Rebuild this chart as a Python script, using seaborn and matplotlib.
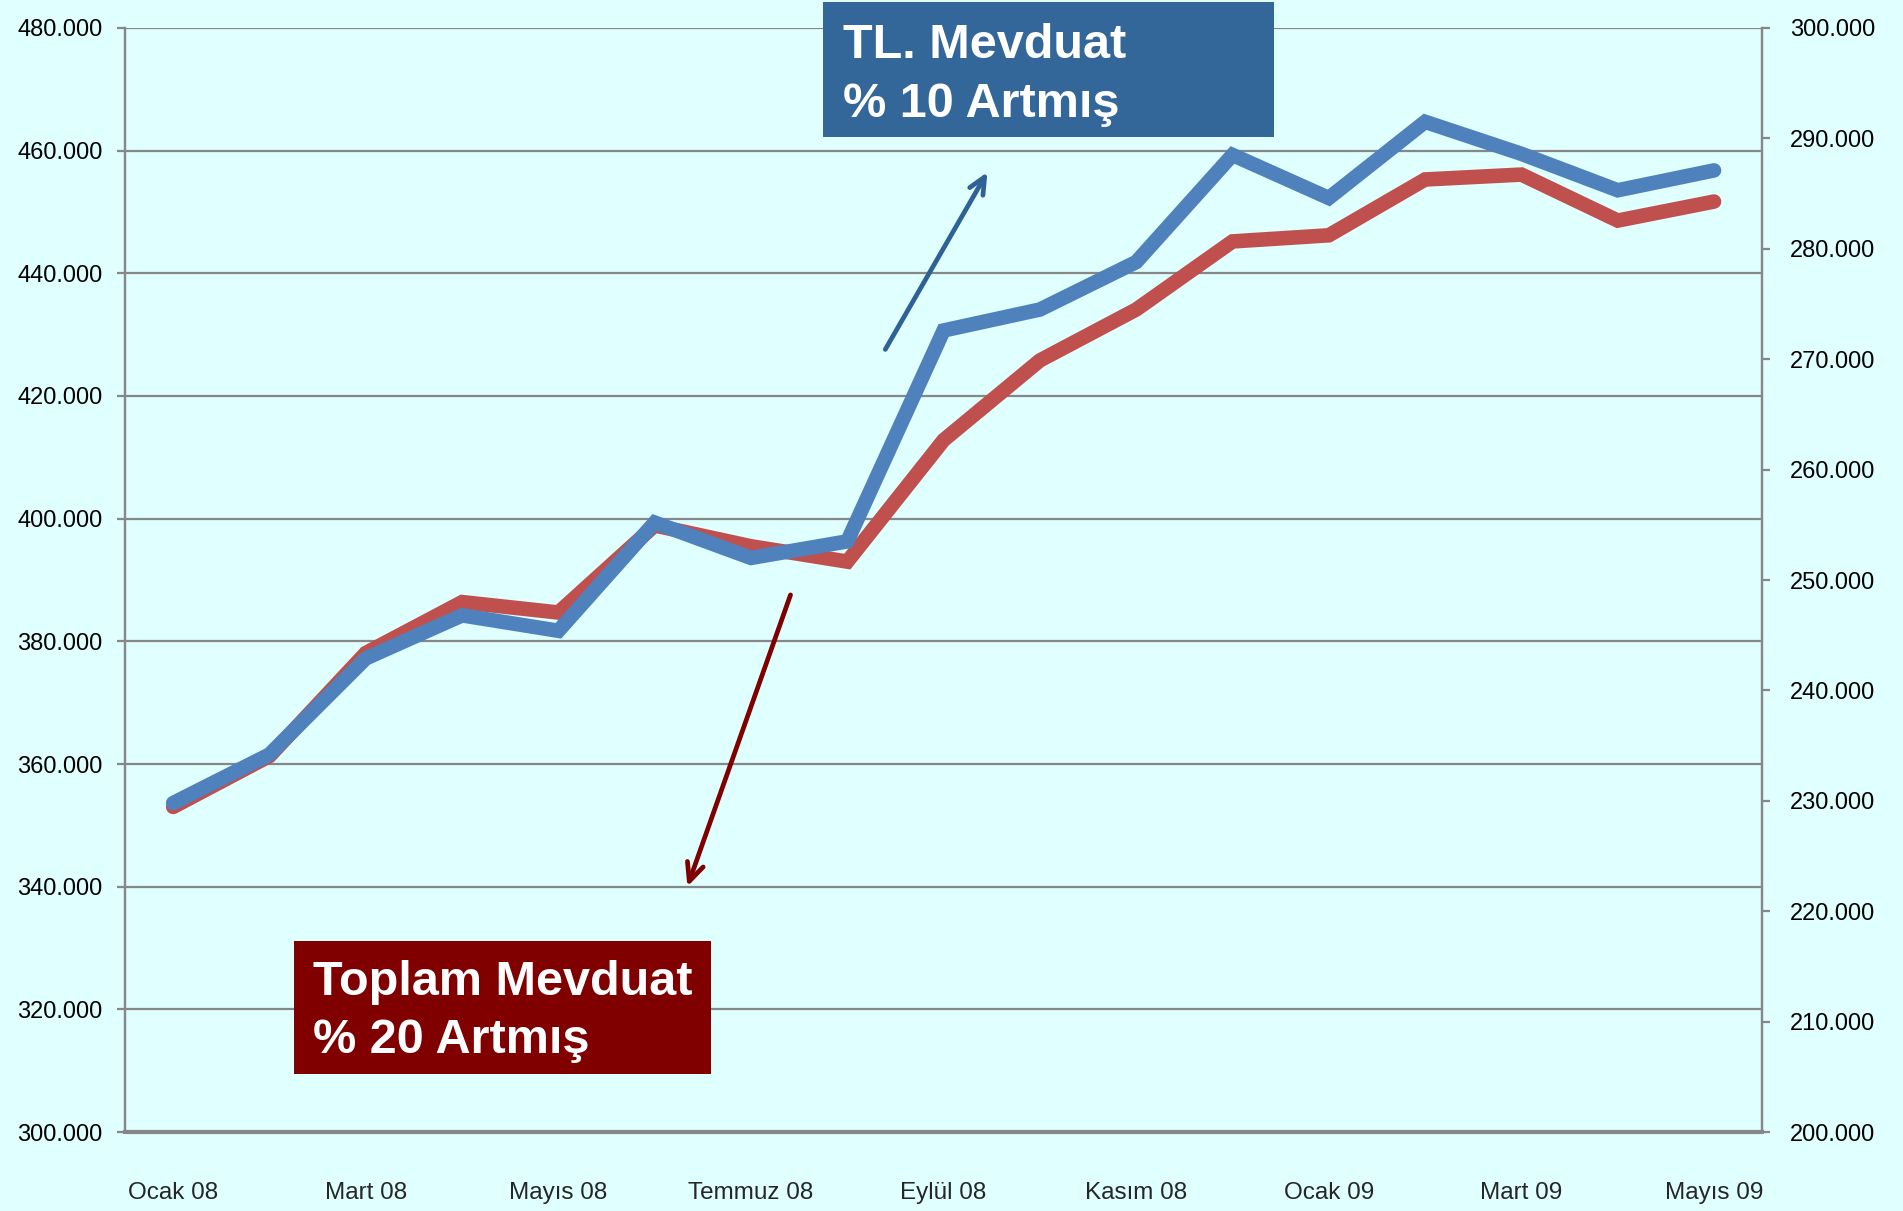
import numpy as np
import pandas as pd
import matplotlib
matplotlib.use("Agg")
import matplotlib.pyplot as plt
import seaborn as sns
from matplotlib.patches import Rectangle

# monthly data, Ocak 08 .. Mayis 09 (bin TL)
months = ["Ocak 08", "Şubat 08", "Mart 08", "Nisan 08", "Mayıs 08", "Haziran 08",
          "Temmuz 08", "Ağustos 08", "Eylül 08", "Ekim 08", "Kasım 08", "Aralık 08",
          "Ocak 09", "Şubat 09", "Mart 09", "Nisan 09", "Mayıs 09"]
toplam = [353.0, 361.3, 378.1, 386.4, 384.7, 398.9, 395.5, 393.0, 412.8,
          425.8, 434.1, 445.2, 446.2, 455.3, 456.1, 448.6, 451.7]
tl = [229.8, 234.2, 242.9, 246.8, 245.4, 255.2, 252.0, 253.5, 272.6,
      274.5, 278.8, 288.5, 284.6, 291.5, 288.6, 285.3, 287.1]

left_ticks = [300, 320, 340, 360, 380, 400, 420, 440, 460, 480]
right_ticks = [200, 210, 220, 230, 240, 250, 260, 270, 280, 290, 300]

BG = "#E0FFFF"
GRID = "#878787"
RED = "#C0504D"
BLUE = "#4F81BD"

sns.set_style("white")
plt.rcParams["font.family"] = ["Liberation Sans", "DejaVu Sans"]

df = pd.DataFrame({"idx": np.arange(len(months)), "month": months,
                   "toplam": toplam, "tl": tl})

fig = plt.figure(figsize=(19.03, 12.11), dpi=100, facecolor=BG)
ax = fig.add_axes([0.0657, 0.0652, 0.926 - 0.0657, 0.9769 - 0.0652])
ax.set_facecolor(BG)
ax2 = ax.twinx()

sns.lineplot(data=df, x="idx", y="toplam", ax=ax, color=RED, linewidth=10.5,
             solid_capstyle="round", solid_joinstyle="miter", zorder=3)
sns.lineplot(data=df, x="idx", y="tl", ax=ax2, color=BLUE, linewidth=10.5,
             solid_capstyle="round", solid_joinstyle="miter", zorder=3)
# keep blue on top of red
ax.set_zorder(1)
ax2.set_zorder(2)
ax2.patch.set_visible(False)

ax.set_xlim(-0.5, len(months) - 0.5)
ax.set_ylim(300, 480)
ax2.set_ylim(200, 300)
ax.set_xlabel("")
ax.set_ylabel("")
ax2.set_ylabel("")

# grid from left axis
ax.set_yticks(left_ticks)
ax.set_yticklabels([f"{v}.000" for v in left_ticks], fontsize=17)
for v in left_ticks[1:]:
    ax.axhline(v, color=GRID, lw=1.6, zorder=0)
ax2.set_yticks(right_ticks)
ax2.set_yticklabels([f"{v}.000" for v in right_ticks], fontsize=17)

# x: ticks between categories, labels every other month
ax.set_xticks(np.arange(-0.5, len(months) - 1, 2))
ax.set_xticklabels([])
ax.set_xticks(np.arange(0, len(months), 2), minor=True)
ax.set_xticklabels(months[::2], minor=True, fontsize=17.5)
ax.tick_params(axis="x", which="major", length=10, width=1.6, color=GRID, direction="out")
ax.tick_params(axis="x", which="minor", length=0, pad=36)
ax.tick_params(axis="y", length=6, width=1.6, color=GRID, pad=10, labelcolor="black")
ax2.tick_params(axis="y", length=6, width=1.6, color=GRID, pad=14, labelcolor="black")

for a in (ax, ax2):
    for s in a.spines.values():
        s.set_color(GRID)
        s.set_linewidth(1.6)
    a.spines["top"].set_visible(False)
ax.spines["bottom"].set_linewidth(3)
ax2.spines["bottom"].set_visible(False)

# arrows
ax.annotate("", xy=(8.47, 456.9), xytext=(7.38, 427.2),
            arrowprops=dict(arrowstyle="->,head_length=1.2,head_width=0.55",
                            color="#2E6196", lw=3.4), zorder=5)
ax.annotate("", xy=(5.33, 339.6), xytext=(6.42, 388.0),
            arrowprops=dict(arrowstyle="->,head_length=1.3,head_width=0.6",
                            color="#800000", lw=3.4), zorder=5)

# label boxes
fig.patches.append(Rectangle((823 / 1903, 1 - 137 / 1211), 451 / 1903, 135 / 1211,
                             transform=fig.transFigure, facecolor="#336699",
                             edgecolor="none", zorder=10))
fig.text(843 / 1903, 1 - 58 / 1211, "TL. Mevduat", color="white", fontsize=35,
         fontweight="bold", va="baseline", ha="left", zorder=11)
fig.text(843 / 1903, 1 - 117 / 1211, "% 10 Artmış", color="white", fontsize=35,
         fontweight="bold", va="baseline", ha="left", zorder=11)

fig.patches.append(Rectangle((294 / 1903, 1 - 1074 / 1211), 417 / 1903, 133 / 1211,
                             transform=fig.transFigure, facecolor="#800000",
                             edgecolor="none", zorder=10))
fig.text(313 / 1903, 1 - 995 / 1211, "Toplam Mevduat", color="white", fontsize=35,
         fontweight="bold", va="baseline", ha="left", zorder=11)
fig.text(313 / 1903, 1 - 1053 / 1211, "% 20 Artmış", color="white", fontsize=35,
         fontweight="bold", va="baseline", ha="left", zorder=11)

fig.savefig("out.png", dpi=100, facecolor=BG)
